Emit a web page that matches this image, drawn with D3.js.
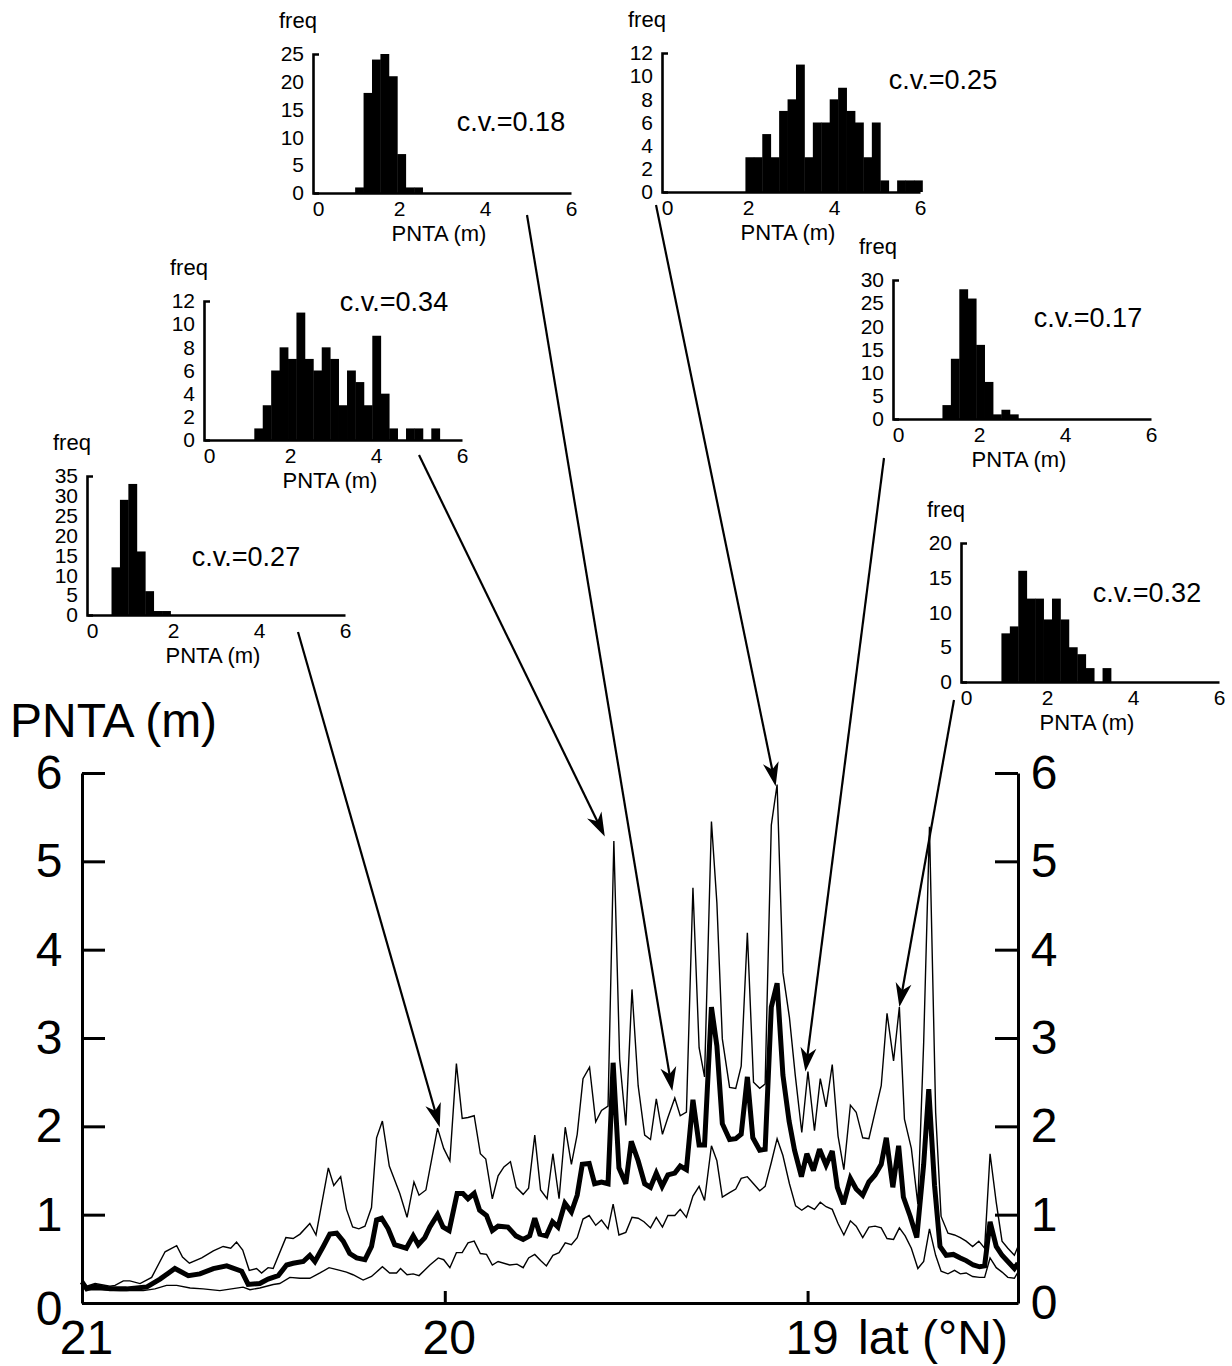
<!DOCTYPE html>
<html>
<head>
<meta charset="utf-8">
<script src="https://cdn.jsdelivr.net/npm/d3@7"></script>
<style>
  body { margin: 0; background: #fff; }
  text { font-family: "Liberation Sans", Arial, Helvetica, sans-serif; fill: #000; }
</style>
</head>
<body>
<svg id="chart" width="1232" height="1366"></svg>
<script>
// --- data: [lat (deg N), PNTA (m)] ---
const upperSeries = [
  [21.000,0.25],[20.987,0.19],[20.964,0.22],[20.923,0.19],[20.909,0.20],[20.886,0.25],[20.868,0.25],[20.840,0.22],
  [20.808,0.29],[20.771,0.58],[20.739,0.65],[20.723,0.52],[20.704,0.45],[20.670,0.51],[20.638,0.59],[20.611,0.64],
  [20.590,0.62],[20.574,0.69],[20.557,0.60],[20.539,0.37],[20.519,0.39],[20.505,0.34],[20.487,0.40],[20.473,0.39],
  [20.438,0.74],[20.418,0.73],[20.399,0.78],[20.372,0.90],[20.355,0.77],[20.321,1.53],[20.306,1.33],[20.287,1.43],
  [20.271,1.06],[20.254,0.86],[20.237,0.84],[20.220,0.87],[20.202,1.08],[20.188,1.87],[20.172,2.06],[20.153,1.55],
  [20.124,1.24],[20.104,0.97],[20.085,1.37],[20.071,1.22],[20.052,1.28],[20.020,1.98],[20.003,1.75],[19.986,1.61],
  [19.968,2.71],[19.952,2.09],[19.936,2.10],[19.919,2.12],[19.902,1.69],[19.887,1.63],[19.869,1.18],[19.853,1.44],
  [19.837,1.54],[19.819,1.60],[19.803,1.31],[19.784,1.23],[19.769,1.30],[19.752,1.90],[19.736,1.28],[19.718,1.18],
  [19.702,1.69],[19.685,1.18],[19.668,1.99],[19.651,1.57],[19.635,1.91],[19.619,2.54],[19.601,2.67],[19.584,2.05],
  [19.568,2.18],[19.550,2.23],[19.534,5.23],[19.518,2.76],[19.501,2.01],[19.484,3.55],[19.467,2.46],[19.449,1.90],
  [19.433,1.85],[19.417,2.31],[19.400,1.91],[19.385,2.10],[19.366,2.32],[19.351,2.12],[19.334,2.16],[19.316,4.70],
  [19.299,2.89],[19.284,2.56],[19.265,5.45],[19.250,4.53],[19.235,2.99],[19.215,2.44],[19.198,2.43],[19.183,2.68],
  [19.166,4.19],[19.149,2.50],[19.132,2.43],[19.117,2.48],[19.100,5.41],[19.084,5.87],[19.068,3.74],[19.050,3.23],
  [19.034,2.58],[19.016,1.93],[18.999,2.62],[18.981,1.95],[18.965,2.54],[18.949,2.22],[18.932,2.70],[18.916,1.89],
  [18.900,1.51],[18.882,2.24],[18.866,2.16],[18.848,1.87],[18.831,1.86],[18.814,2.16],[18.797,2.46],[18.781,3.28],
  [18.763,2.74],[18.747,3.35],[18.733,2.08],[18.714,1.75],[18.696,1.12],[18.680,2.95],[18.664,5.39],[18.647,2.16],
  [18.632,0.98],[18.613,0.79],[18.595,0.77],[18.579,0.74],[18.563,0.70],[18.545,0.64],[18.528,0.70],[18.512,0.62],
  [18.497,1.69],[18.480,1.14],[18.464,0.70],[18.448,0.62],[18.430,0.54],[18.420,0.64]
];

const meanSeries = [
  [21.000,0.24],[20.987,0.16],[20.964,0.19],[20.923,0.16],[20.877,0.16],[20.822,0.18],[20.785,0.27],[20.744,0.39],
  [20.707,0.31],[20.675,0.33],[20.638,0.39],[20.601,0.42],[20.560,0.36],[20.542,0.21],[20.510,0.22],[20.487,0.27],
  [20.459,0.31],[20.436,0.43],[20.418,0.45],[20.390,0.47],[20.372,0.54],[20.358,0.47],[20.335,0.64],[20.317,0.78],
  [20.298,0.79],[20.280,0.70],[20.262,0.56],[20.243,0.51],[20.220,0.49],[20.202,0.64],[20.188,0.94],[20.174,0.96],
  [20.156,0.84],[20.138,0.66],[20.106,0.62],[20.087,0.76],[20.073,0.66],[20.055,0.74],[20.041,0.86],[20.020,1.00],
  [20.005,0.86],[19.988,0.82],[19.966,1.24],[19.950,1.24],[19.936,1.18],[19.919,1.24],[19.904,1.05],[19.885,0.99],
  [19.869,0.82],[19.853,0.87],[19.826,0.86],[19.804,0.76],[19.784,0.72],[19.766,0.76],[19.752,0.96],[19.738,0.78],
  [19.720,0.76],[19.703,0.92],[19.688,0.86],[19.669,1.13],[19.651,1.03],[19.635,1.22],[19.621,1.57],[19.602,1.58],
  [19.587,1.35],[19.568,1.37],[19.550,1.35],[19.536,2.72],[19.520,1.53],[19.501,1.35],[19.486,1.83],[19.467,1.61],
  [19.449,1.35],[19.433,1.31],[19.417,1.47],[19.401,1.32],[19.385,1.45],[19.366,1.47],[19.351,1.55],[19.334,1.51],
  [19.316,2.30],[19.299,1.79],[19.284,1.79],[19.265,3.35],[19.250,2.91],[19.235,2.03],[19.215,1.85],[19.198,1.86],
  [19.183,1.91],[19.166,2.56],[19.151,1.87],[19.132,1.73],[19.117,1.74],[19.100,3.35],[19.084,3.62],[19.068,2.58],
  [19.051,2.06],[19.036,1.73],[19.017,1.43],[19.002,1.69],[18.984,1.50],[18.967,1.74],[18.949,1.56],[18.932,1.72],
  [18.918,1.31],[18.901,1.12],[18.882,1.41],[18.866,1.29],[18.848,1.22],[18.831,1.37],[18.814,1.45],[18.797,1.57],
  [18.783,1.87],[18.765,1.31],[18.749,1.78],[18.736,1.20],[18.717,0.98],[18.699,0.74],[18.680,1.57],[18.666,2.42],
  [18.650,1.33],[18.635,0.64],[18.618,0.54],[18.598,0.55],[18.579,0.51],[18.563,0.48],[18.543,0.43],[18.526,0.41],
  [18.512,0.42],[18.497,0.92],[18.480,0.64],[18.464,0.54],[18.448,0.47],[18.430,0.39],[18.420,0.45]
];

const lowerSeries = [
  [21.000,0.22],[20.987,0.15],[20.950,0.15],[20.895,0.14],[20.831,0.14],[20.799,0.16],[20.767,0.20],[20.739,0.20],
  [20.702,0.17],[20.666,0.16],[20.620,0.14],[20.588,0.16],[20.556,0.18],[20.537,0.15],[20.510,0.17],[20.473,0.21],
  [20.455,0.22],[20.427,0.29],[20.399,0.28],[20.372,0.28],[20.344,0.34],[20.319,0.40],[20.289,0.37],[20.271,0.35],
  [20.253,0.32],[20.225,0.26],[20.202,0.30],[20.172,0.41],[20.152,0.34],[20.133,0.34],[20.122,0.39],[20.104,0.32],
  [20.087,0.33],[20.071,0.31],[20.041,0.43],[20.018,0.51],[20.003,0.49],[19.986,0.40],[19.968,0.57],[19.952,0.57],
  [19.936,0.68],[19.919,0.70],[19.902,0.56],[19.885,0.55],[19.869,0.43],[19.853,0.47],[19.821,0.43],[19.801,0.44],
  [19.784,0.40],[19.769,0.51],[19.752,0.55],[19.736,0.48],[19.720,0.42],[19.702,0.54],[19.685,0.57],[19.668,0.68],
  [19.651,0.66],[19.635,0.74],[19.619,0.95],[19.602,0.99],[19.584,0.88],[19.568,0.94],[19.550,0.84],[19.536,1.12],
  [19.520,0.77],[19.501,0.80],[19.484,0.97],[19.467,0.96],[19.451,0.92],[19.433,0.85],[19.417,0.97],[19.400,0.86],
  [19.385,0.99],[19.366,0.99],[19.351,1.06],[19.334,0.97],[19.316,1.21],[19.299,1.32],[19.284,1.16],[19.265,1.78],
  [19.250,1.61],[19.235,1.20],[19.215,1.25],[19.198,1.29],[19.183,1.41],[19.166,1.43],[19.149,1.35],[19.132,1.27],
  [19.117,1.32],[19.100,1.59],[19.084,1.86],[19.068,1.67],[19.050,1.35],[19.033,1.10],[19.016,1.05],[18.999,1.10],
  [18.981,1.06],[18.965,1.14],[18.949,1.09],[18.932,1.06],[18.916,0.90],[18.900,0.77],[18.882,0.93],[18.866,0.87],
  [18.848,0.74],[18.831,0.86],[18.814,0.87],[18.797,0.85],[18.781,0.73],[18.763,0.72],[18.747,0.85],[18.731,0.76],
  [18.714,0.62],[18.696,0.39],[18.680,0.47],[18.664,0.84],[18.647,0.54],[18.632,0.36],[18.613,0.33],[18.595,0.37],
  [18.579,0.33],[18.563,0.34],[18.545,0.30],[18.526,0.29],[18.512,0.29],[18.497,0.51],[18.480,0.40],[18.464,0.35],
  [18.448,0.29],[18.430,0.28],[18.420,0.35]
];

// points the arrows point at (lat, PNTA)
const arrowTargets = [[20.014,1.99],[19.559,5.28],[19.373,2.40],[19.088,5.85],[19.006,2.62],[18.747,3.35]];

// histograms (PNTA bins of width binWidth starting at binStarts[i])
const binWidth = 0.196;
const countsD = [12,29,33,16,6,1,1];
const countsC = [1,3,6,8,7,11,7,6,8,7,3,6,5,3,9,4,1,0,1,1,0,1];
const countsA = [1,18,24,25,21,7,1,1];
const countsB = [3,3,5,3,7,8,11,3,6,6,8,9,7,6,3,6,1,0,1,1,1];
const countsE = [3,13,28,26,16,8,1,2,1];
const countsF = [7,8,16,12,12,9,12,9,5,4,2,0,2];
const binStarts = [0.57, 1.17, 0.98, 1.94, 1.15, 0.94];
const cvValues = [0.27, 0.34, 0.18, 0.25, 0.17, 0.32];
const freqMax = [35, 12, 25, 12, 30, 20];
const freqStep = [5, 2, 5, 2, 5, 5];
const pntaTicks = [0, 2, 4, 6];
const latTicks = [21, 20, 19];
const mainTicks = [0, 1, 2, 3, 4, 5, 6];

// --- layout ---
const svg = d3.select('#chart');
const font = '"Liberation Sans", Arial, Helvetica, sans-serif';

const x = d3.scaleLinear().domain([21, 18.42]).range([82, 1018]);
const y = d3.scaleLinear().domain([0, 6]).range([1303, 773]);

// main axes
const left = svg.append('g').attr('transform', 'translate(82,0)')
  .call(d3.axisLeft(y).tickValues(mainTicks).tickSize(-23).tickSizeOuter(0).tickPadding(20).tickFormat(d3.format('d')));
const right = svg.append('g').attr('transform', 'translate(1018,0)')
  .call(d3.axisRight(y).tickValues(mainTicks).tickSize(-23).tickSizeOuter(0).tickPadding(12).tickFormat(d3.format('d')));
const bottom = svg.append('g').attr('transform', 'translate(0,1303)')
  .call(d3.axisBottom(x).tickValues(latTicks).tickSize(-12).tickSizeOuter(0).tickPadding(17).tickFormat(d3.format('d')));

[left, right, bottom].forEach(g => {
  g.selectAll('path, line').attr('stroke', '#000').attr('stroke-width', 3);
  g.selectAll('text').style('font-size', '48px').style('font-family', font).attr('fill', '#000');
});
left.selectAll('text').attr('text-anchor', 'middle').attr('x', -33);
left.selectAll('.tick').filter(d => d === 0).select('text').attr('dy', '0.45em');
right.selectAll('text').attr('text-anchor', 'middle').attr('x', 26);
bottom.selectAll('text').attr('dx', 4);

svg.append('text').attr('x', 10).attr('y', 720).attr('dy', '0.35em')
  .style('font-size', '48px').text('PNTA (m)');
svg.append('text').attr('x', 858).attr('y', 1337).attr('dy', '0.35em')
  .style('font-size', '48px').text('lat (°N)');

// lines
const line = d3.line().x(d => x(d[0])).y(d => y(d[1]));
svg.append('path').datum(upperSeries).attr('d', line)
  .attr('fill', 'none').attr('stroke', '#000').attr('stroke-width', 1.4).attr('stroke-linejoin', 'miter');
svg.append('path').datum(lowerSeries).attr('d', line)
  .attr('fill', 'none').attr('stroke', '#000').attr('stroke-width', 1.4);
svg.append('path').datum(meanSeries).attr('d', line)
  .attr('fill', 'none').attr('stroke', '#000').attr('stroke-width', 5).attr('stroke-linejoin', 'miter').attr('stroke-miterlimit', 3);

// insets: y-axis x, baseline y, c.v. label centre, arrow start
const insets = [
  { counts: countsD, ax: 87,  base: 615, cv: [246, 557],  from: [298, 632] },
  { counts: countsC, ax: 204, base: 440, cv: [394, 302],  from: [419, 455] },
  { counts: countsA, ax: 313, base: 193, cv: [511, 122],  from: [527, 215] },
  { counts: countsB, ax: 662, base: 192, cv: [943, 80],   from: [656, 205] },
  { counts: countsE, ax: 893, base: 419, cv: [1088, 318], from: [884, 458] },
  { counts: countsF, ax: 961, base: 682, cv: [1147, 593], from: [954, 700] }
];
const insetW = 258, insetH = 139;

insets.forEach((ins, i) => {
  const hx = d3.scaleLinear().domain([0, 6]).range([ins.ax, ins.ax + insetW]);
  const hy = d3.scaleLinear().domain([0, freqMax[i]]).range([ins.base, ins.base - insetH]);
  const g = svg.append('g');

  g.selectAll('rect').data(ins.counts).enter().append('rect')
    .attr('x', (d, k) => hx(binStarts[i] + k * binWidth))
    .attr('width', hx(binWidth) - hx(0) + 0.4)
    .attr('y', d => hy(d))
    .attr('height', d => hy(0) - hy(d))
    .attr('fill', '#000');

  const ya = g.append('g').attr('transform', `translate(${ins.ax},0)`)
    .call(d3.axisLeft(hy).tickValues(d3.range(0, freqMax[i] + 1, freqStep[i])).tickSize(0).tickSizeOuter(-6).tickPadding(9).tickFormat(d3.format('d')));
  const xa = g.append('g').attr('transform', `translate(0,${ins.base})`)
    .call(d3.axisBottom(hx).tickValues(pntaTicks).tickSize(0).tickSizeOuter(0).tickPadding(8).tickFormat(d3.format('d')));
  [ya, xa].forEach(a => {
    a.selectAll('path').attr('stroke', '#000').attr('stroke-width', 2.6);
    a.selectAll('text').style('font-size', '21px').style('font-family', font).attr('fill', '#000');
  });
  xa.selectAll('.tick').filter(d => d === 0).select('text').attr('dx', 5);

  g.append('text').attr('x', ins.ax - 34).attr('y', ins.base - insetH - 34).attr('dy', '0.35em')
    .style('font-size', '22px').text('freq');
  g.append('text').attr('x', ins.ax + insetW / 2 - 3).attr('y', ins.base + 40).attr('dy', '0.35em')
    .attr('text-anchor', 'middle').style('font-size', '22px').text('PNTA (m)');
  g.append('text').attr('x', ins.cv[0]).attr('y', ins.cv[1]).attr('dy', '0.35em')
    .attr('text-anchor', 'middle').style('font-size', '27px').text('c.v.=' + cvValues[i].toFixed(2));

  // arrow to the matching point of the upper line
  const tx = x(arrowTargets[i][0]), ty = y(arrowTargets[i][1]);
  const ang = Math.atan2(ty - ins.from[1], tx - ins.from[0]) * 180 / Math.PI;
  const len = Math.hypot(tx - ins.from[0], ty - ins.from[1]);
  const ag = svg.append('g').attr('transform', `translate(${ins.from[0]},${ins.from[1]}) rotate(${ang})`);
  ag.append('line').attr('x1', 0).attr('y1', 0).attr('x2', len - 14).attr('y2', 0)
    .attr('stroke', '#000').attr('stroke-width', 2.2);
  ag.append('path').attr('d', `M${len},0 L${len - 24},-8 L${len - 17},0 L${len - 24},8 Z`).attr('fill', '#000');
});
</script>
</body>
</html>
